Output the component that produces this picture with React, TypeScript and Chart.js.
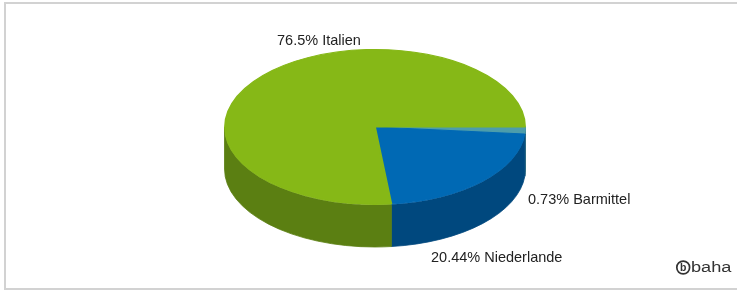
import React, { useEffect, useRef } from "react";
import { Chart, registerables } from "chart.js";

Chart.register(...registerables);

// ---- data ----
const categories = ["Barmittel", "Niederlande", "Italien"];
const shares = [0.73, 20.44, 76.5];

// ---- styles / layout ----
const topColors = ["#4c9dab", "#0069b4", "#86b817"];
const sideColors = ["#2f6e7c", "#00487e", "#5b7f12"];
const labelAnchors: [number, number][] = [
  [528, 200],
  [431, 258],
  [277, 41],
];
const RX = 150; // horizontal radius of the ellipse
const DEPTH = 42; // thickness of the 3D pie
const FONT = "Liberation Sans, Arial, sans-serif";

const pie3d = {
  id: "pie3d",
  beforeDatasetsDraw(chart: any) {
    const arcs = chart.getDatasetMeta(0).data;
    if (!arcs.length) return;
    const a0 = arcs[0];
    const cx = a0.x;
    const cy = a0.y;
    const ry = a0.outerRadius;
    const k = RX / ry;
    const ctx = chart.ctx;
    // screen angle -> ellipse parametric angle
    const remap = (th: number) => {
      let t = Math.atan2(RX * Math.sin(th), ry * Math.cos(th));
      while (t < th - Math.PI) t += 2 * Math.PI;
      while (t > th + Math.PI) t -= 2 * Math.PI;
      return t;
    };
    chart.$pie3dSaved = arcs.map((a: any) => [a.startAngle, a.endAngle, a.circumference]);
    const mapped = arcs.map((a: any) => [remap(a.startAngle), remap(a.endAngle)]);

    // side walls
    const drawSide = (s: number, e: number, color: string) => {
      if (e <= s) return;
      ctx.beginPath();
      ctx.ellipse(cx, cy, RX + 0.5, ry + 0.5, 0, s, e, false);
      ctx.ellipse(cx, cy + DEPTH, RX + 0.5, ry + 0.5, 0, e, s, true);
      ctx.closePath();
      ctx.fillStyle = color;
      ctx.fill();
      ctx.strokeStyle = color;
      ctx.lineWidth = 0.8;
      ctx.stroke();
    };
    ctx.save();
    mapped.forEach(([s, e]: number[], i: number) => {
      const col = sideColors[i % sideColors.length];
      for (const base of [-2 * Math.PI, 0, 2 * Math.PI]) {
        drawSide(Math.max(s, base), Math.min(e, base + Math.PI), col);
      }
    });
    ctx.restore();

    // top surface: stretch the library's circle into an ellipse
    ctx.save();
    ctx.translate(cx, cy);
    ctx.scale(k, 1);
    ctx.translate(-cx, -cy);
    arcs.forEach((a: any, i: number) => {
      a.startAngle = mapped[i][0];
      a.endAngle = mapped[i][1];
      a.circumference = mapped[i][1] - mapped[i][0];
    });
  },
  afterDatasetsDraw(chart: any) {
    const arcs = chart.getDatasetMeta(0).data;
    if (!arcs.length || !chart.$pie3dSaved) return;
    const ctx = chart.ctx;
    ctx.restore();
    arcs.forEach((a: any, i: number) => {
      const [s, e, c] = chart.$pie3dSaved[i];
      a.startAngle = s;
      a.endAngle = e;
      a.circumference = c;
    });
    chart.$pie3dSaved = null;

    // labels
    ctx.save();
    ctx.fillStyle = "#222222";
    ctx.font = `14.5px ${FONT}`;
    ctx.textBaseline = "middle";
    ctx.textAlign = "left";
    const labels = chart.data.labels as string[];
    const values = chart.data.datasets[0].data as number[];
    labels.forEach((name, i) => {
      const [x, y] = labelAnchors[i];
      ctx.fillText(`${values[i]}% ${name}`, x, y);
    });

    // watermark
    ctx.strokeStyle = "#333333";
    ctx.lineWidth = 1.7;
    ctx.beginPath();
    ctx.arc(683.2, 267.5, 6.4, 0, Math.PI * 2);
    ctx.stroke();
    ctx.fillStyle = "#333333";
    ctx.font = `bold 10.5px ${FONT}`;
    ctx.textAlign = "center";
    ctx.fillText("b", 683.2, 268);
    ctx.save();
    ctx.translate(691, 268);
    ctx.scale(1.3, 1);
    ctx.font = `14px ${FONT}`;
    ctx.textAlign = "left";
    ctx.fillText("baha", 0, 0);
    ctx.restore();
    ctx.restore();
  },
};

export default function App() {
  const ref = useRef<HTMLCanvasElement | null>(null);

  useEffect(() => {
    const canvas = ref.current;
    if (!canvas) return;
    const chart = new Chart(canvas, {
      type: "pie",
      data: {
        labels: categories,
        datasets: [
          {
            data: shares,
            backgroundColor: topColors,
            borderColor: topColors,
            borderWidth: 1,
            clip: false as any,
          },
        ],
      },
      options: {
        responsive: false,
        animation: false,
        rotation: 90,
        layout: { padding: { left: 225, right: 212, top: 49, bottom: 86 } },
        plugins: {
          legend: { display: false },
          tooltip: { enabled: false },
        },
        events: [],
      },
      plugins: [pie3d],
    });
    return () => chart.destroy();
  }, []);

  return (
    <div style={{ position: "absolute", left: 0, top: 0, width: 737, height: 291, background: "#ffffff", overflow: "hidden" }}>
      <div
        style={{
          position: "absolute",
          left: 4,
          top: 2,
          width: 760,
          height: 284,
          border: "2px solid #d2d2d2",
        }}
      />
      <canvas ref={ref} width={737} height={291} style={{ position: "absolute", left: 0, top: 0 }} />
    </div>
  );
}
